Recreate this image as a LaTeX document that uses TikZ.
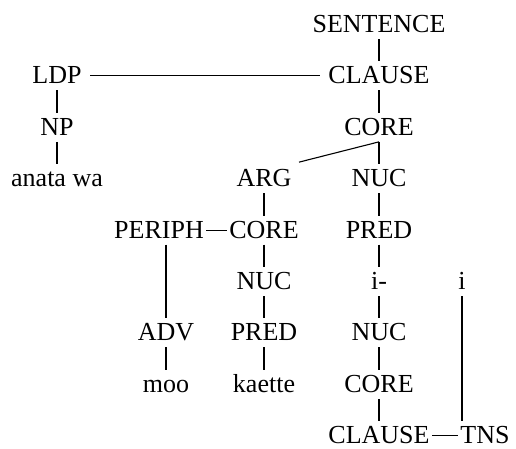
\documentclass[tikz,border=0pt]{standalone}
\usepackage{fontspec}
\setmainfont{Liberation Serif}
\usetikzlibrary{backgrounds}
\usetikzlibrary{positioning}

\begin{document}
\begin{tikzpicture}[
    x=1pt, y=-1pt,
    show background rectangle,
    tight background,
    background rectangle/.style={fill=white},
    node distance=22.3pt,
    every node/.style={font=\fontsize{26}{30}\selectfont, inner xsep=2pt, inner ysep=2pt, text height=20pt, text depth=4pt},
    line width=1.1pt,
 ]
    \useasboundingbox (0,0) rectangle (516,449);

    % main spine
    \node (SEN) at (379,24.5) {SENTENCE};
    \node[below=of SEN] (CL0) {CLAUSE};
    \node[below=of CL0] (CO0) {CORE};
    \node[below=of CO0] (NUC0) {NUC};
    \node[below=of NUC0] (PR0) {PRED};
    \node[below=of PR0] (I0) {i-};
    \node[below=of I0] (NUC1) {NUC};
    \node[below=of NUC1] (CO1) {CORE};
    \node[below=of CO1] (CL1) {CLAUSE};
    \draw (SEN) -- (CL0) -- (CO0) -- (NUC0) -- (PR0) -- (I0) -- (NUC1) -- (CO1) -- (CL1);

    % detached periphery
    \node (LDP) at (57,0 |- CL0) {LDP};
    \node[below=of LDP] (NP) {NP};
    \node[below=of NP] (AW) {anata wa};
    \draw[shorten <=6pt, shorten >=6pt] (LDP) -- (CL0);
    \draw (LDP) -- (NP) -- (AW);

    % argument clause
    \node (ARG) at (264,0 |- NUC0) {ARG};
    \node[below=of ARG] (CO2) {CORE};
    \node[below=of CO2] (NUC2) {NUC};
    \node[below=of NUC2] (PR2) {PRED};
    \node[below=of PR2] (KA) {kaette};
    \draw (CO0.south) -- ([xshift=5pt,yshift=2pt]ARG.north east);
    \draw (ARG) -- (CO2) -- (NUC2) -- (PR2) -- (KA);

    \node (PER) at (159,0 |- CO2) {PERIPH};
    \node (ADV) at (166,0 |- NUC1) {ADV};
    \node[below=of ADV] (MOO) {moo};
    \draw (PER.east) -- (CO2.west);
    \draw (ADV |- PER.south) -- (ADV.north);
    \draw (ADV) -- (MOO);

    % tense
    \node (I1) at (462,0 |- I0) {i};
    \node (TNS) at (485,0 |- CL1) {TNS};
    \draw (CL1.east) -- (TNS.west);
    \draw (I1.south) -- (I1 |- TNS.north);
\end{tikzpicture}
\end{document}
